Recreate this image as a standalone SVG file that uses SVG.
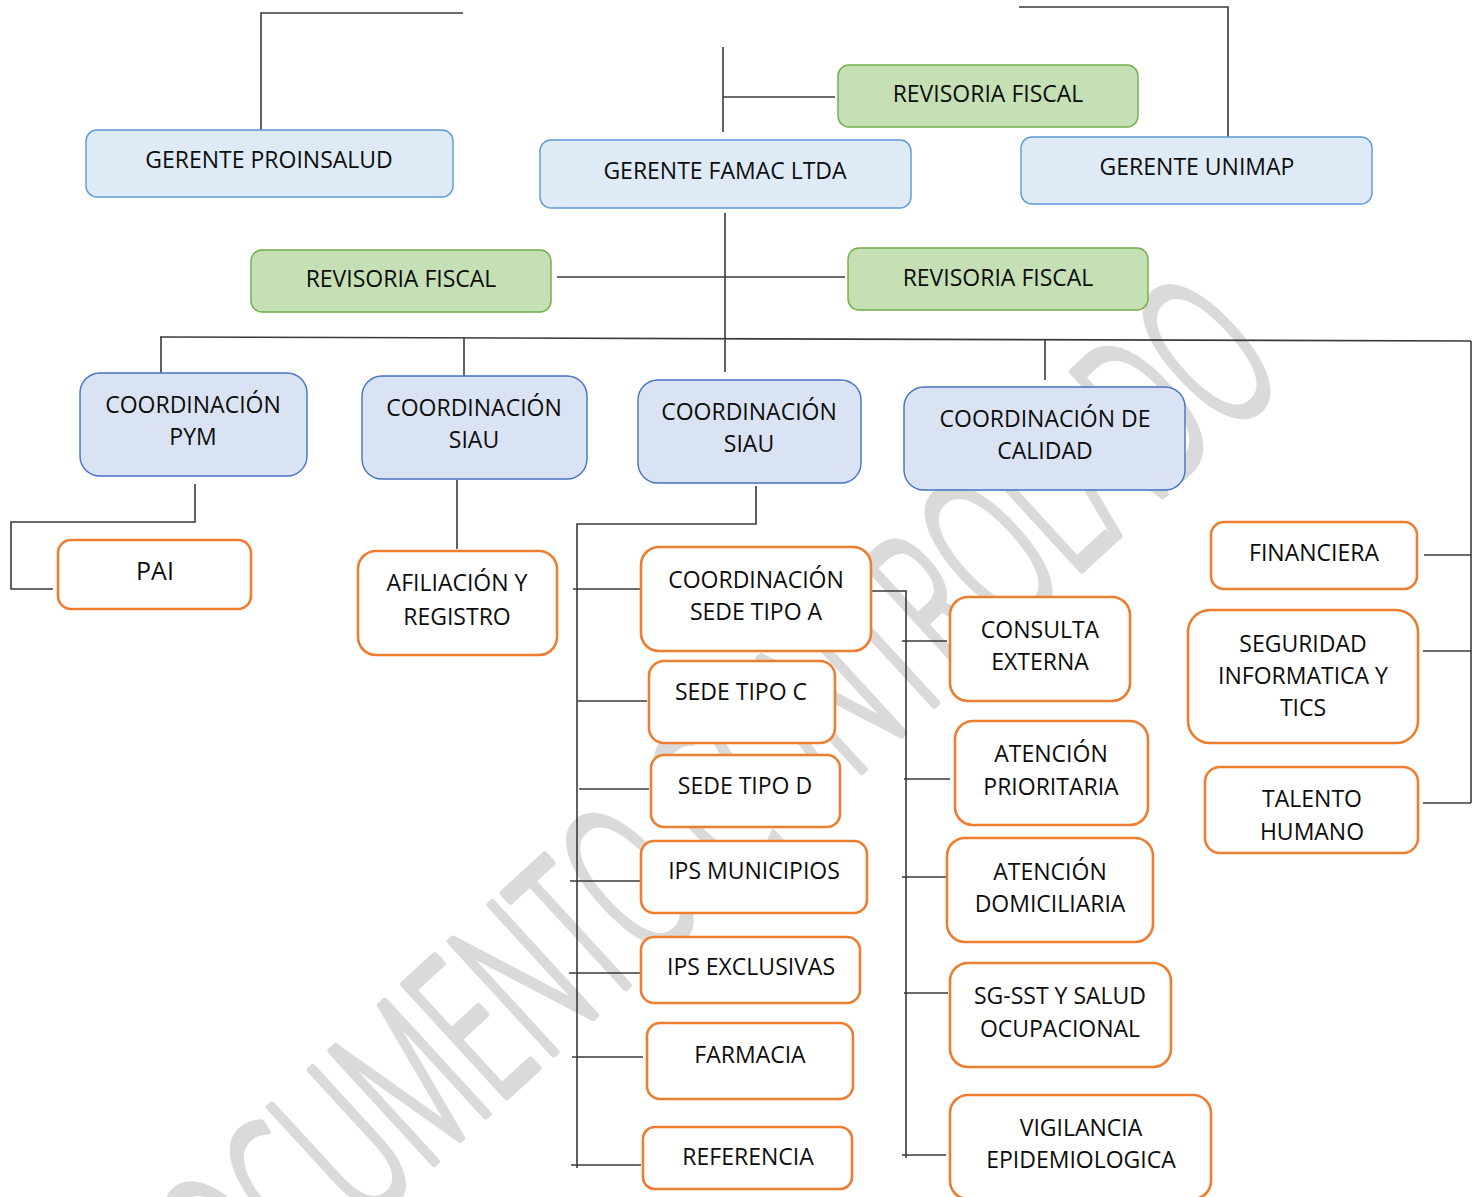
<svg xmlns="http://www.w3.org/2000/svg" width="1478" height="1197" viewBox="0 0 1478 1197">
<style>
text{font-family:"Open Sans","Liberation Sans",sans-serif;font-size:23px;fill:#0d0d0d;text-anchor:middle}
.ger{fill:#deebf7;stroke:#5b9bd5;stroke-width:1.4}
.rev{fill:#c5e0b4;stroke:#70ad47;stroke-width:1.4}
.coo{fill:#dae3f3;stroke:#4472c4;stroke-width:1.4}
.ora{fill:#ffffff;stroke:#ed7d31;stroke-width:2.6}
#connectors line,#connectors polyline{stroke:#3a3a3a;stroke-width:1.6;fill:none}
.wm{font-family:"Open Sans","Liberation Sans",sans-serif;font-size:212px;font-weight:300;fill:#dadada;stroke:#dadada;stroke-width:8;stroke-linejoin:round}
</style>
<rect width="1478" height="1197" fill="#ffffff"/>
<g id="watermark">
<text class="wm" transform="translate(683,823) rotate(-42.5) scale(0.54,1)" dominant-baseline="central" text-anchor="middle">DOCUMENTO CONTROLADO</text>
</g>
<g id="connectors">
<polyline points="463,13 261,13 261,130"/>
<line x1="723" y1="47" x2="723" y2="132"/>
<line x1="723" y1="97" x2="835" y2="97"/>
<polyline points="1019,7 1228,7 1228,137"/>
<line x1="725" y1="213" x2="725" y2="372"/>
<line x1="557" y1="277" x2="845" y2="277"/>
<line x1="160" y1="337" x2="1471" y2="341"/>
<line x1="161" y1="337" x2="161" y2="373"/>
<line x1="464" y1="338" x2="464" y2="376"/>
<line x1="1045" y1="340" x2="1045" y2="380"/>
<line x1="1471" y1="341" x2="1471" y2="803"/>
<polyline points="195,484 195,522 11,522 11,589 53,589"/>
<line x1="457" y1="480" x2="457" y2="549"/>
<polyline points="756,486 756,524 577,524 577,1168"/>
<line x1="573" y1="589" x2="641" y2="589"/>
<line x1="578" y1="701" x2="647" y2="701"/>
<line x1="579" y1="789" x2="649" y2="789"/>
<line x1="570" y1="881" x2="641" y2="881"/>
<line x1="569" y1="973" x2="641" y2="973"/>
<line x1="572" y1="1057" x2="643" y2="1057"/>
<line x1="571" y1="1165" x2="641" y2="1165"/>
<polyline points="870,591 906,591 906,1158"/>
<line x1="902" y1="641" x2="947" y2="641"/>
<line x1="904" y1="779" x2="950" y2="779"/>
<line x1="902" y1="877" x2="946" y2="877"/>
<line x1="904" y1="993" x2="948" y2="993"/>
<line x1="902" y1="1155" x2="946" y2="1155"/>
<line x1="1424" y1="555" x2="1471" y2="555"/>
<line x1="1423" y1="651" x2="1471" y2="651"/>
<line x1="1423" y1="803" x2="1471" y2="803"/>
</g>
<g id="gerente-proinsalud"><rect class="ger" x="86" y="130" width="367" height="67" rx="11"/><text x="269" y="168">GERENTE PROINSALUD</text></g>
<g id="gerente-famac"><rect class="ger" x="540" y="140" width="371" height="68" rx="11"/><text x="725" y="179">GERENTE FAMAC LTDA</text></g>
<g id="revisoria-top"><rect class="rev" x="838" y="65" width="300" height="62" rx="11"/><text x="988" y="102">REVISORIA FISCAL</text></g>
<g id="gerente-unimap"><rect class="ger" x="1021" y="137" width="351" height="67" rx="11"/><text x="1197" y="175">GERENTE UNIMAP</text></g>
<g id="revisoria-left"><rect class="rev" x="251" y="250" width="300" height="62" rx="11"/><text x="401" y="287">REVISORIA FISCAL</text></g>
<g id="revisoria-right"><rect class="rev" x="848" y="248" width="300" height="62" rx="11"/><text x="998" y="286">REVISORIA FISCAL</text></g>
<g id="coord-pym"><rect class="coo" x="80" y="373" width="227" height="103" rx="20"/><text x="193" y="413">COORDINACIÓN</text><text x="193" y="445">PYM</text></g>
<g id="coord-siau-1"><rect class="coo" x="362" y="376" width="225" height="103" rx="20"/><text x="474" y="416">COORDINACIÓN</text><text x="474" y="448">SIAU</text></g>
<g id="coord-siau-2"><rect class="coo" x="638" y="380" width="223" height="103" rx="20"/><text x="749" y="420">COORDINACIÓN</text><text x="749" y="452">SIAU</text></g>
<g id="coord-calidad"><rect class="coo" x="904" y="387" width="281" height="103" rx="20"/><text x="1045" y="427">COORDINACIÓN DE</text><text x="1045" y="459">CALIDAD</text></g>
<g id="pai"><rect class="ora" x="58" y="540" width="193" height="69" rx="13"/><text x="155" y="580" style="font-size:25px">PAI</text></g>
<g id="afiliacion"><rect class="ora" x="358" y="551" width="199" height="104" rx="18"/><text x="457" y="591">AFILIACIÓN Y</text><text x="457" y="625">REGISTRO</text></g>
<g id="sede-a"><rect class="ora" x="641" y="547" width="230" height="104" rx="18"/><text x="756" y="588">COORDINACIÓN</text><text x="756" y="620">SEDE TIPO A</text></g>
<g id="sede-c"><rect class="ora" x="649" y="661" width="186" height="82" rx="15"/><text x="741" y="700">SEDE TIPO C</text></g>
<g id="sede-d"><rect class="ora" x="651" y="755" width="189" height="72" rx="13"/><text x="745" y="794">SEDE TIPO D</text></g>
<g id="ips-municipios"><rect class="ora" x="641" y="841" width="226" height="72" rx="13"/><text x="754" y="879">IPS MUNICIPIOS</text></g>
<g id="ips-exclusivas"><rect class="ora" x="641" y="937" width="219" height="66" rx="13"/><text x="751" y="975">IPS EXCLUSIVAS</text></g>
<g id="farmacia"><rect class="ora" x="647" y="1023" width="206" height="76" rx="13"/><text x="750" y="1063">FARMACIA</text></g>
<g id="referencia"><rect class="ora" x="643" y="1127" width="209" height="62" rx="12"/><text x="748" y="1165">REFERENCIA</text></g>
<g id="consulta-externa"><rect class="ora" x="950" y="597" width="180" height="104" rx="18"/><text x="1040" y="638">CONSULTA</text><text x="1040" y="670">EXTERNA</text></g>
<g id="atencion-prioritaria"><rect class="ora" x="955" y="721" width="193" height="104" rx="18"/><text x="1051" y="762">ATENCIÓN</text><text x="1051" y="795">PRIORITARIA</text></g>
<g id="atencion-domiciliaria"><rect class="ora" x="947" y="838" width="206" height="104" rx="18"/><text x="1050" y="880">ATENCIÓN</text><text x="1050" y="912">DOMICILIARIA</text></g>
<g id="sg-sst"><rect class="ora" x="950" y="963" width="221" height="104" rx="18"/><text x="1060" y="1004">SG-SST Y SALUD</text><text x="1060" y="1037">OCUPACIONAL</text></g>
<g id="vigilancia"><rect class="ora" x="950" y="1095" width="261" height="104" rx="18"/><text x="1081" y="1136">VIGILANCIA</text><text x="1081" y="1168">EPIDEMIOLOGICA</text></g>
<g id="financiera"><rect class="ora" x="1211" y="522" width="206" height="67" rx="13"/><text x="1314" y="561">FINANCIERA</text></g>
<g id="seguridad"><rect class="ora" x="1188" y="610" width="230" height="133" rx="22"/><text x="1303" y="652">SEGURIDAD</text><text x="1303" y="684">INFORMATICA Y</text><text x="1303" y="716">TICS</text></g>
<g id="talento"><rect class="ora" x="1205" y="767" width="213" height="86" rx="15"/><text x="1312" y="807">TALENTO</text><text x="1312" y="840">HUMANO</text></g>
</svg>
